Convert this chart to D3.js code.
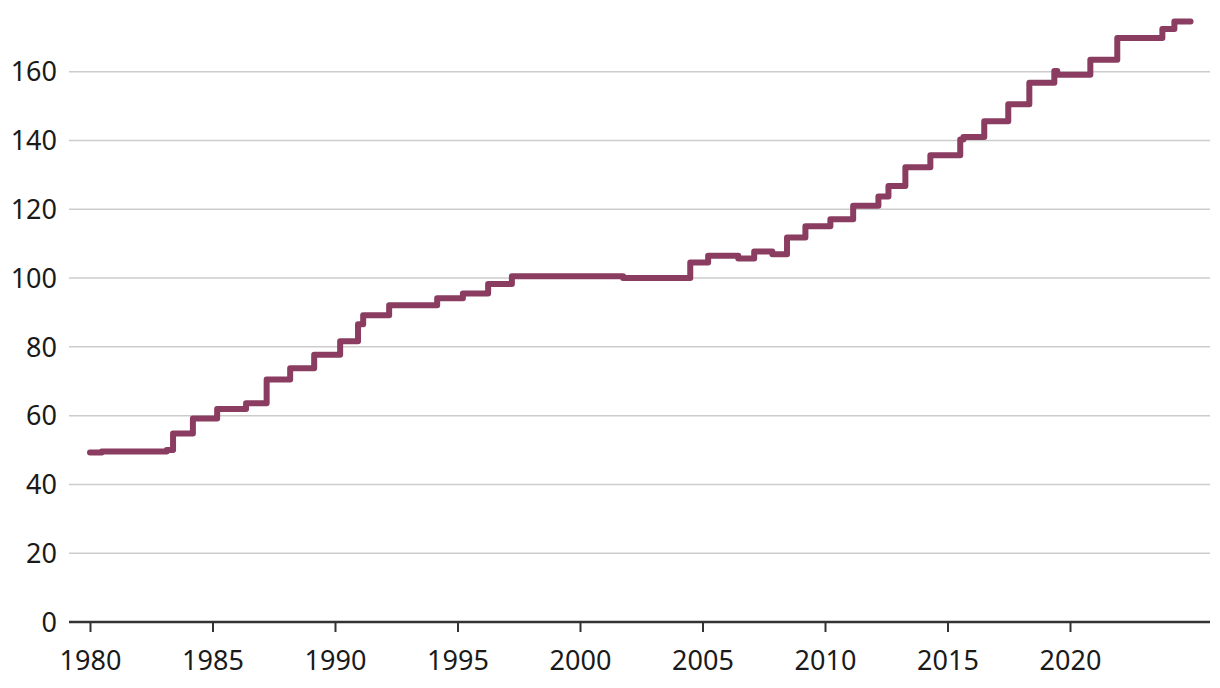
<!DOCTYPE html>
<html>
<head>
<meta charset="utf-8">
<script src="https://cdn.jsdelivr.net/npm/d3@7"></script>
<style>
  html, body { margin: 0; padding: 0; background: #fff; }
  svg text { font-family: "Noto Sans", sans-serif; fill: #1a1a1a; }
</style>
</head>
<body>
<svg id="chart" width="1220" height="688"></svg>
<script>
// Step dates (decimal years) and index values
const stepDates = [1980.0, 1980.48, 1983.13, 1983.39, 1984.2, 1985.19, 1986.37, 1987.21, 1988.17, 1989.15,
  1990.21, 1990.94, 1991.15, 1992.21, 1994.17, 1995.22, 1996.25, 1997.22, 2001.76, 2004.5,
  2005.23, 2006.46, 2007.11, 2007.85, 2008.45, 2009.2, 2010.22, 2011.15, 2012.18, 2012.59,
  2013.28, 2014.3, 2015.52, 2015.65, 2016.5, 2017.48, 2018.34, 2019.36, 2019.48, 2020.83,
  2021.93, 2023.77, 2024.26, 2024.92];
const stepValues = [49.3, 49.6, 50.0, 54.8, 59.2, 61.9, 63.6, 70.5, 73.8, 77.7,
  81.6, 86.6, 89.2, 92.1, 94.1, 95.5, 98.3, 100.5, 100.0, 104.5,
  106.5, 105.7, 107.7, 106.9, 111.8, 115.1, 117.1, 121.0, 123.7, 126.8,
  132.2, 135.7, 140.3, 141.0, 145.6, 150.5, 156.8, 160.2, 159.1, 163.5,
  169.8, 172.4, 174.6, 174.6];
const yTicks = [0, 20, 40, 60, 80, 100, 120, 140, 160];
const xTicks = [1980, 1985, 1990, 1995, 2000, 2005, 2010, 2015, 2020];

const svg = d3.select("#chart");
const x = d3.scaleLinear().domain([1980, 2020]).range([90, 1070]);
const y = d3.scaleLinear().domain([0, 160]).range([622, 71.7]);
const left = 69, right = 1210;

// gridlines
svg.append("g").selectAll("line").data(yTicks.filter(d => d > 0)).join("line")
  .attr("x1", left).attr("x2", right)
  .attr("y1", d => y(d)).attr("y2", d => y(d))
  .attr("stroke", "#cccccc").attr("stroke-width", 1.5);

// y labels
svg.append("g").selectAll("text").data(yTicks).join("text")
  .attr("x", 57).attr("y", d => y(d)).attr("dy", "0.36em")
  .attr("text-anchor", "end").attr("font-size", 27)
  .text(d => d);

// x axis
const xAxis = d3.axisBottom(x).tickValues(xTicks).tickFormat(d3.format("d")).tickSize(10).tickPadding(19);
const gx = svg.append("g").attr("transform", `translate(0,${y(0)})`).call(xAxis);
gx.select(".domain").remove();
gx.selectAll(".tick line").attr("stroke", "#333").attr("stroke-width", 2);
gx.selectAll(".tick text").attr("font-size", 27).attr("font-family", "Noto Sans, sans-serif").attr("fill", "#1a1a1a");
svg.append("line").attr("x1", left).attr("x2", right).attr("y1", y(0)).attr("y2", y(0))
  .attr("stroke", "#333").attr("stroke-width", 2.5);

// line
const data = stepDates.map((d, i) => ({ t: d, v: stepValues[i] }));
const line = d3.line().x(d => x(d.t)).y(d => y(d.v)).curve(d3.curveStepAfter);
svg.append("path").datum(data).attr("d", line)
  .attr("fill", "none").attr("stroke", "#8b3d61").attr("stroke-width", 6)
  .attr("stroke-linejoin", "round").attr("stroke-linecap", "round");
</script>
</body>
</html>
